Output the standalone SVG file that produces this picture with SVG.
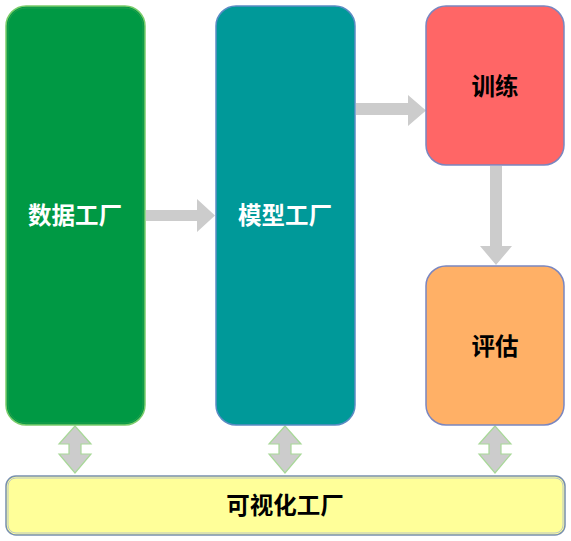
<svg xmlns="http://www.w3.org/2000/svg" width="571" height="541" viewBox="0 0 571 541">
<style>
.box{stroke-width:1.5}
.lbl{font-family:"Noto Sans CJK SC","Liberation Sans",sans-serif;font-weight:bold;font-size:23.5px;text-anchor:middle;dominant-baseline:central}
.arr{fill:#cccccc}
.dbl{fill:#cccccc;stroke:#a8d898;stroke-width:1.2}
</style>
<rect width="571" height="541" fill="#ffffff"/>
<g id="connectors">
<polygon class="arr" points="146,210 197,210 197,199 215,215.5 197,232 197,221 146,221"/>
<polygon class="arr" points="356,103 408,103 408,95 426,110.5 408,126 408,115 356,115"/>
<polygon class="arr" points="490,166 502,166 502,246 512,246 496,265 480,246 490,246"/>
<polygon class="dbl" points="75,426 91,444 81,444 81,454 91,454 75,473 59,454 69,454 69,444 59,444"/>
<polygon class="dbl" points="285,426 301,444 291,444 291,454 301,454 285,473 269,454 279,454 279,444 269,444"/>
<polygon class="dbl" points="495,426 511,444 501,444 501,454 511,454 495,473 479,454 489,454 489,444 479,444"/>
</g>
<g id="data">
<rect class="box" x="6" y="6" width="139" height="419" rx="20" fill="#009944" stroke="#7ccc6c"/>
<rect x="8" y="8" width="135" height="415" rx="18" fill="none" stroke="#2aa050" stroke-width="0.8"/>
<text class="lbl" x="75" y="214" fill="#ffffff">数据工厂</text>
</g>
<g id="model">
<rect class="box" x="216" y="6" width="139" height="419" rx="20" fill="#009999" stroke="#5b8cc4"/>
<text class="lbl" x="285" y="214" fill="#ffffff">模型工厂</text>
</g>
<g id="train">
<rect class="box" x="426" y="6" width="138" height="159" rx="20" fill="#ff6666" stroke="#7a86c0"/>
<text class="lbl" x="495" y="85" fill="#000000">训练</text>
</g>
<g id="eval">
<rect class="box" x="426" y="266" width="138" height="159" rx="20" fill="#ffb066" stroke="#7a86c0"/>
<text class="lbl" x="495" y="345" fill="#000000">评估</text>
</g>
<g id="vis">
<rect x="6" y="476" width="559" height="59" rx="10" fill="#ffff99" stroke="#7890b0" stroke-width="1.5"/>
<rect x="8" y="478" width="555" height="55" rx="8" fill="none" stroke="#a8b8d0" stroke-width="0.8"/>
<text class="lbl" x="285" y="504" fill="#000000">可视化工厂</text>
</g>
</svg>
